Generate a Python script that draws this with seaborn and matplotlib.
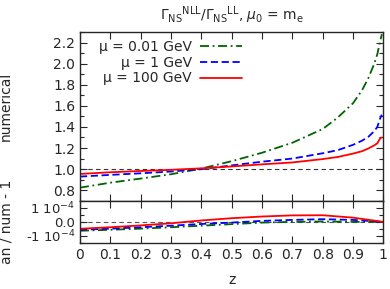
import numpy as np
import pandas as pd
import matplotlib
matplotlib.use('Agg')
import matplotlib.pyplot as plt
import seaborn as sns
from matplotlib.ticker import MultipleLocator

# values
z = [0, 0.1, 0.2, 0.3, 0.4, 0.5, 0.6, 0.7, 0.8, 0.85, 0.9, 0.93, 0.95, 0.97, 0.98, 0.99, 0.995]
green = [0.824, 0.871, 0.91, 0.951, 1.005, 1.075, 1.155, 1.25, 1.38, 1.49, 1.625, 1.75, 1.86, 2.00, 2.09, 2.22, 2.28]
blue = [0.929, 0.945, 0.96, 0.977, 0.999, 1.035, 1.07, 1.10, 1.15, 1.18, 1.23, 1.27, 1.305, 1.36, 1.40, 1.485, 1.516]
red = [0.954, 0.97, 0.982, 0.993, 1.007, 1.025, 1.045, 1.063, 1.095, 1.115, 1.147, 1.17, 1.195, 1.225, 1.245, 1.294, 1.30]

z_r = [0, 0.1, 0.2, 0.3, 0.4, 0.5, 0.6, 0.7, 0.8, 0.9, 1.0]
red_r = [-0.49, -0.38, -0.25, -0.10, 0.10, 0.26, 0.38, 0.46, 0.47, 0.30, 0.0]
blue_r = [-0.56, -0.48, -0.38, -0.27, -0.15, -0.05, 0.07, 0.14, 0.19, 0.14, 0.0]
green_r = [-0.63, -0.56, -0.48, -0.38, -0.27, -0.16, -0.05, 0.0, 0.03, 0.0, 0.0]

labels = ['μ = 0.01 GeV', 'μ = 1 GeV', 'μ = 100 GeV']
colors = ['#006400', '#0000ff', '#ff0000']
styles = [(0, (5, 2, 1, 2)), (0, (4, 2)), '-']

sns.set_style('ticks')
plt.rcParams['font.family'] = ['DejaVu Sans']
plt.rcParams['mathtext.fontset'] = 'dejavusans'
plt.rcParams['font.size'] = 10

fig = plt.figure(figsize=(3.9, 2.89), dpi=100)
ax1 = fig.add_axes([0.205, 0.3055, 0.778, 0.5835])
ax2 = fig.add_axes([0.205, 0.159, 0.778, 0.1465])

tops = [green, blue, red]
bots = [green_r, blue_r, red_r]
for i in range(3):
    sns.lineplot(x=z, y=tops[i], ax=ax1, color=colors[i], linestyle=styles[i],
                 linewidth=1.3, label=labels[i])
    sns.lineplot(x=z_r, y=np.array(bots[i]) * 1e-4, ax=ax2, color=colors[i],
                 linestyle=styles[i], linewidth=1.3)

ax1.axhline(1.0, color='#333333', linestyle=(0, (4, 3)), linewidth=0.8, zorder=0)
ax2.axhline(0.0, color='#555555', linestyle=(0, (4, 3)), linewidth=0.8, zorder=0)

ax1.set_xlim(0, 1)
ax1.set_ylim(0.7, 2.3)
ax1.set_yticks([0.8, 1.0, 1.2, 1.4, 1.6, 1.8, 2.0, 2.2])
ax1.yaxis.set_minor_locator(MultipleLocator(0.1))
ax1.xaxis.set_major_locator(MultipleLocator(0.1))
ax1.set_xticklabels([])
ax1.set_ylabel('numerical')

ax2.set_xlim(0, 1)
ax2.set_ylim(-1.5e-4, 1.5e-4)
ax2.set_yticks([-1e-4, 0, 1e-4])
ax2.set_yticklabels([r'-1 10$^{-4}$', '0.0', r'1 10$^{-4}$'], fontsize=9.5)
ax2.yaxis.set_minor_locator(MultipleLocator(0.5e-4))
ax2.set_xticks(np.arange(0, 1.01, 0.1))
ax2.set_xticklabels(['0', '0.1', '0.2', '0.3', '0.4', '0.5', '0.6', '0.7', '0.8', '0.9', '1'])
ax2.set_xlabel('z', labelpad=8)
ax2.set_ylabel('an / num - 1')

for ax in (ax1, ax2):
    ax.tick_params(which='both', direction='in', top=True, right=True, width=0.8)
    ax.tick_params(which='major', length=5)
    ax.tick_params(which='minor', length=3)
    for s in ax.spines.values():
        s.set_linewidth(1.0)
ax1.yaxis.set_label_coords(-0.22, 0.56)
ax2.yaxis.set_label_coords(-0.22, 0.5)

ax1.legend(loc='upper left', bbox_to_anchor=(0.03, 1.01), frameon=False,
           markerfirst=False, handlelength=3.0, labelspacing=0.12,
           borderaxespad=0.3, handletextpad=0.6)

fig.text(0.595, 0.948, r'$\Gamma_{\mathrm{NS}}{}^{\mathrm{NLL}}/\Gamma_{\mathrm{NS}}{}^{\mathrm{LL}}$, $\mu_0$ = m$_\mathrm{e}$',
         ha='center', va='center', fontsize=10)

plt.savefig('out.png', dpi=100)
